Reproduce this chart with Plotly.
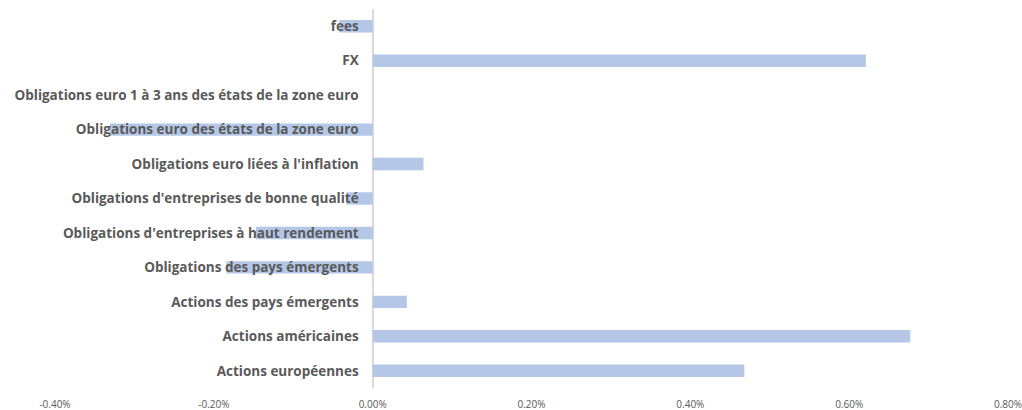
import plotly.graph_objects as go

categories = [
    "Actions européennes",
    "Actions américaines",
    "Actions des pays émergents",
    "Obligations des pays émergents",
    "Obligations d'entreprises à haut rendement",
    "Obligations d'entreprises de bonne qualité",
    "Obligations euro liées à l'inflation",
    "Obligations euro des états de la zone euro",
    "Obligations euro 1 à 3 ans des états de la zone euro",
    "FX",
    "fees",
]
values = [0.00468, 0.00677, 0.00043, -0.00184, -0.00147, -0.00033, 0.00064, -0.00331, 0.0, 0.00621, -0.00042]
tick_vals = [-0.004, -0.002, 0.0, 0.002, 0.004, 0.006, 0.008]
tick_labels = ["-0.40%", "-0.20%", "0.00%", "0.20%", "0.40%", "0.60%", "0.80%"]

fig = go.Figure(go.Bar(
    x=values, y=categories, orientation="h",
    marker=dict(color="#b4c7e7", line=dict(width=0)),
    width=0.36,
    hoverinfo="skip",
))

fig.update_layout(
    template="none",
    width=1022, height=410,
    margin=dict(l=55, r=14, t=9, b=22, autoexpand=False),
    plot_bgcolor="white", paper_bgcolor="white",
    showlegend=False,
    xaxis=dict(
        range=[-0.004, 0.008], tickvals=tick_vals, ticktext=tick_labels,
        showgrid=False, zeroline=True, zerolinecolor="#d9d9d9", zerolinewidth=1.5,
        tickfont=dict(family="Open Sans", size=10, color="#595959"),
        showline=False, ticks="", automargin=False,
        ticklabelstandoff=9, ticklabeloverflow="allow",
    ),
    yaxis=dict(
        anchor="free", position=1/3,
        showgrid=False, zeroline=False, showline=False, ticks="",
        ticklabelstandoff=14, automargin=False,
        tickfont=dict(family="Open Sans", size=13.5, color="#595959", weight="bold"),
        range=[-0.5, 10.5],
    ),
)

fig.write_html(
    "out.html",
    config={"displayModeBar": False},
    post_script="document.body.style.margin='0';document.body.style.overflow='hidden';",
)
